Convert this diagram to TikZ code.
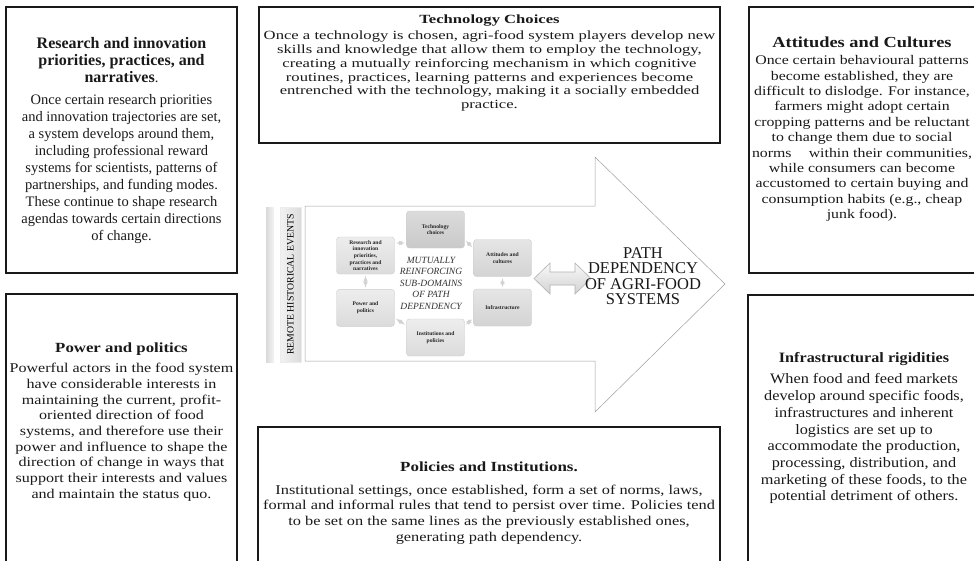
\documentclass[tikz,border=0pt]{standalone}
\usepackage{fontspec}
\setmainfont{Liberation Serif}
\usetikzlibrary{positioning}

\tikzset{
  infobox/.style={draw=black!90, line width=1.4pt},
  infotext/.style={anchor=north, align=center, inner sep=0pt, text=black!90},
  subdomain/.style={draw=gray!40, rounded corners=3pt, line width=0.4pt, inner sep=0pt,
    minimum width=58pt, minimum height=37pt, align=center, text=black!85,
    font=\fontsize{5.6}{6.7}\selectfont\bfseries, top color=gray!14, bottom color=gray!28},
  minarrow/.style={<->, >=latex, gray!35, line width=1pt, shorten >=1.5pt, shorten <=1.5pt}
}
\newcommand{\boxhead}[2]{{\fontsize{#1}{17}\selectfont\bfseries #2}}

\begin{document}
\begin{tikzpicture}[x=1pt, y=-1pt]
        \useasboundingbox (0,0) rectangle (974,560);

        % outer boxes
        \draw[infobox] (6,7) rectangle (237,273);
        \draw[infobox] (259,7) rectangle (720,143);
        \draw[infobox] (749,7) rectangle (975,273);
        \draw[infobox] (6,294) rectangle (237,565);
        \draw[infobox] (258,427) rectangle (720,565);
        \draw[infobox] (748,295) rectangle (975,565);

        \node[infotext, font=\fontsize{14.5}{17}\selectfont] (researchtxt) at (121.5,37)
          {\boxhead{16}{Research and innovation}\\\boxhead{16}{priorities, practices, and}\\\boxhead{16}{narratives}.\\[5pt]
           Once certain research priorities\\and innovation trajectories are set,\\a system develops around them,\\
           including professional reward\\systems for scientists, patterns of\\partnerships, and funding modes.\\
           These continue to shape research\\agendas towards certain directions\\of change.};
        \node[infotext, font=\fontsize{12.5}{13.8}\selectfont\addfontfeatures{FakeStretch=1.33}] (techtxt) at (489.5,15)
          {\textbf{Technology Choices}\\[2pt]
           Once a technology is chosen, agri-food system players develop new\\
           skills and knowledge that allow them to employ the technology,\\
           creating a mutually reinforcing mechanism in which cognitive\\
           routines, practices, learning patterns and experiences become\\
           entrenched with the technology, making it a socially embedded\\
           practice.};
        \node[infotext, font=\fontsize{13.2}{15.4}\selectfont\addfontfeatures{FakeStretch=1.2}] (attitudestxt) at (862,37)
          {\boxhead{15.3}{Attitudes and Cultures}\\[1.5pt]
           Once certain behavioural patterns\\become established, they are\\difficult to dislodge. For instance,\\
           farmers might adopt certain\\cropping patterns and be reluctant\\to change them due to social\\
           norms \quad within their communities,\\while consumers can become\\
           accustomed to certain buying and\\consumption habits (e.g., cheap\\junk food).};
        \node[infotext, font=\fontsize{13.4}{15.7}\selectfont\addfontfeatures{FakeStretch=1.2}] (powertxt) at (121.5,343)
          {\boxhead{14}{Power and politics}\\[4pt]
           Powerful actors in the food system\\have considerable interests in\\maintaining the current, profit-\\
           oriented direction of food\\systems, and therefore use their\\power and influence to shape the\\
           direction of change in ways that\\support their interests and values\\and maintain the status quo.};
        \node[infotext, font=\fontsize{13.4}{15.7}\selectfont\addfontfeatures{FakeStretch=1.22}] (policiestxt) at (489,461.5)
          {\boxhead{13.9}{Policies and Institutions.}\\[7pt]
           Institutional settings, once established, form a set of norms, laws,\\
           formal and informal rules that tend to persist over time. Policies tend\\
           to be set on the same lines as the previously established ones,\\
           generating path dependency.};
        \node[infotext, font=\fontsize{14.4}{16.7}\selectfont\addfontfeatures{FakeStretch=1.13}] (infratxt) at (864,352)
          {\boxhead{14.3}{Infrastructural rigidities}\\[5pt]
           When food and feed markets\\develop around specific foods,\\infrastructures and inherent\\
           logistics are set up to\\accommodate the production,\\processing, distribution, and\\
           marketing of these foods, to the\\potential detriment of others.};

        % central figure
        \draw[gray!75, line width=0.5pt, fill=white]
          (305,206) -- (595,206) -- (595,157) -- (725,284) -- (595,412) -- (595,361) -- (305,361) -- cycle;
        \fill[left color=gray!30, right color=gray!8] (266,207) rectangle (274,362);
        \node[draw=gray!15, left color=gray!10, right color=gray!28, minimum width=21pt, minimum height=155pt,
          inner sep=0pt] (remotebar) at (290.5,284.5) {};
        \node[rotate=90, font=\fontsize{9.8}{9.8}\selectfont, text=black] (remote) at (remotebar.center) {REMOTE HISTORICAL EVENTS};

        \node[subdomain, top color=gray!28, bottom color=gray!42] (tech) at (435.5,229.5) {Technology\\choices};
        \node[subdomain] (research) at (365.5,255.5) {Research and\\innovation\\priorities,\\practices and\\narratives};
        \node[subdomain, below=15pt of research] (power) {Power and\\politics};
        \node[subdomain] (inst) at (435.5,337.5) {Institutions and\\policies};
        \node[subdomain, top color=gray!20, bottom color=gray!34] (att) at (502.5,258) {Attitudes and\\cultures};
        \node[subdomain, top color=gray!20, bottom color=gray!34] (infra) at (502.5,307.5) {Infrastructure};

        \node[align=center, font=\fontsize{9.5}{11.5}\selectfont\itshape, text=black!80] (mutual) at (431,283)
          {MUTUALLY\\REINFORCING\\SUB-DOMAINS\\OF PATH\\DEPENDENCY};

        \draw[minarrow] (research.east |- 0,243) -- (tech.west |- 0,243);
        \draw[minarrow] ([yshift=-10pt]tech.east) -- ([yshift=-9pt]att.north west);
        \draw[minarrow] (research.south) -- (power.north);
        \draw[minarrow] (att.south) -- (infra.north);
        \draw[minarrow] ([yshift=-10pt]power.east) -- ([yshift=12pt]inst.west);
        \draw[minarrow] ([yshift=12pt]inst.east) -- ([yshift=-11pt]infra.west);

        \draw[gray!60, line width=0.6pt, top color=gray!5, bottom color=gray!35]
          (534,278.5) -- (550,263) -- (550,272) -- (575,272) -- (575,263) -- (591,278.5)
          -- (575,294) -- (575,285) -- (550,285) -- (550,294) -- cycle;

        \node[align=center, font=\fontsize{16.5}{15.5}\selectfont, text=black!90] (pathtxt) at (643,276)
          {PATH\\DEPENDENCY\\OF AGRI-FOOD\\SYSTEMS};
    \end{tikzpicture}
\end{document}
